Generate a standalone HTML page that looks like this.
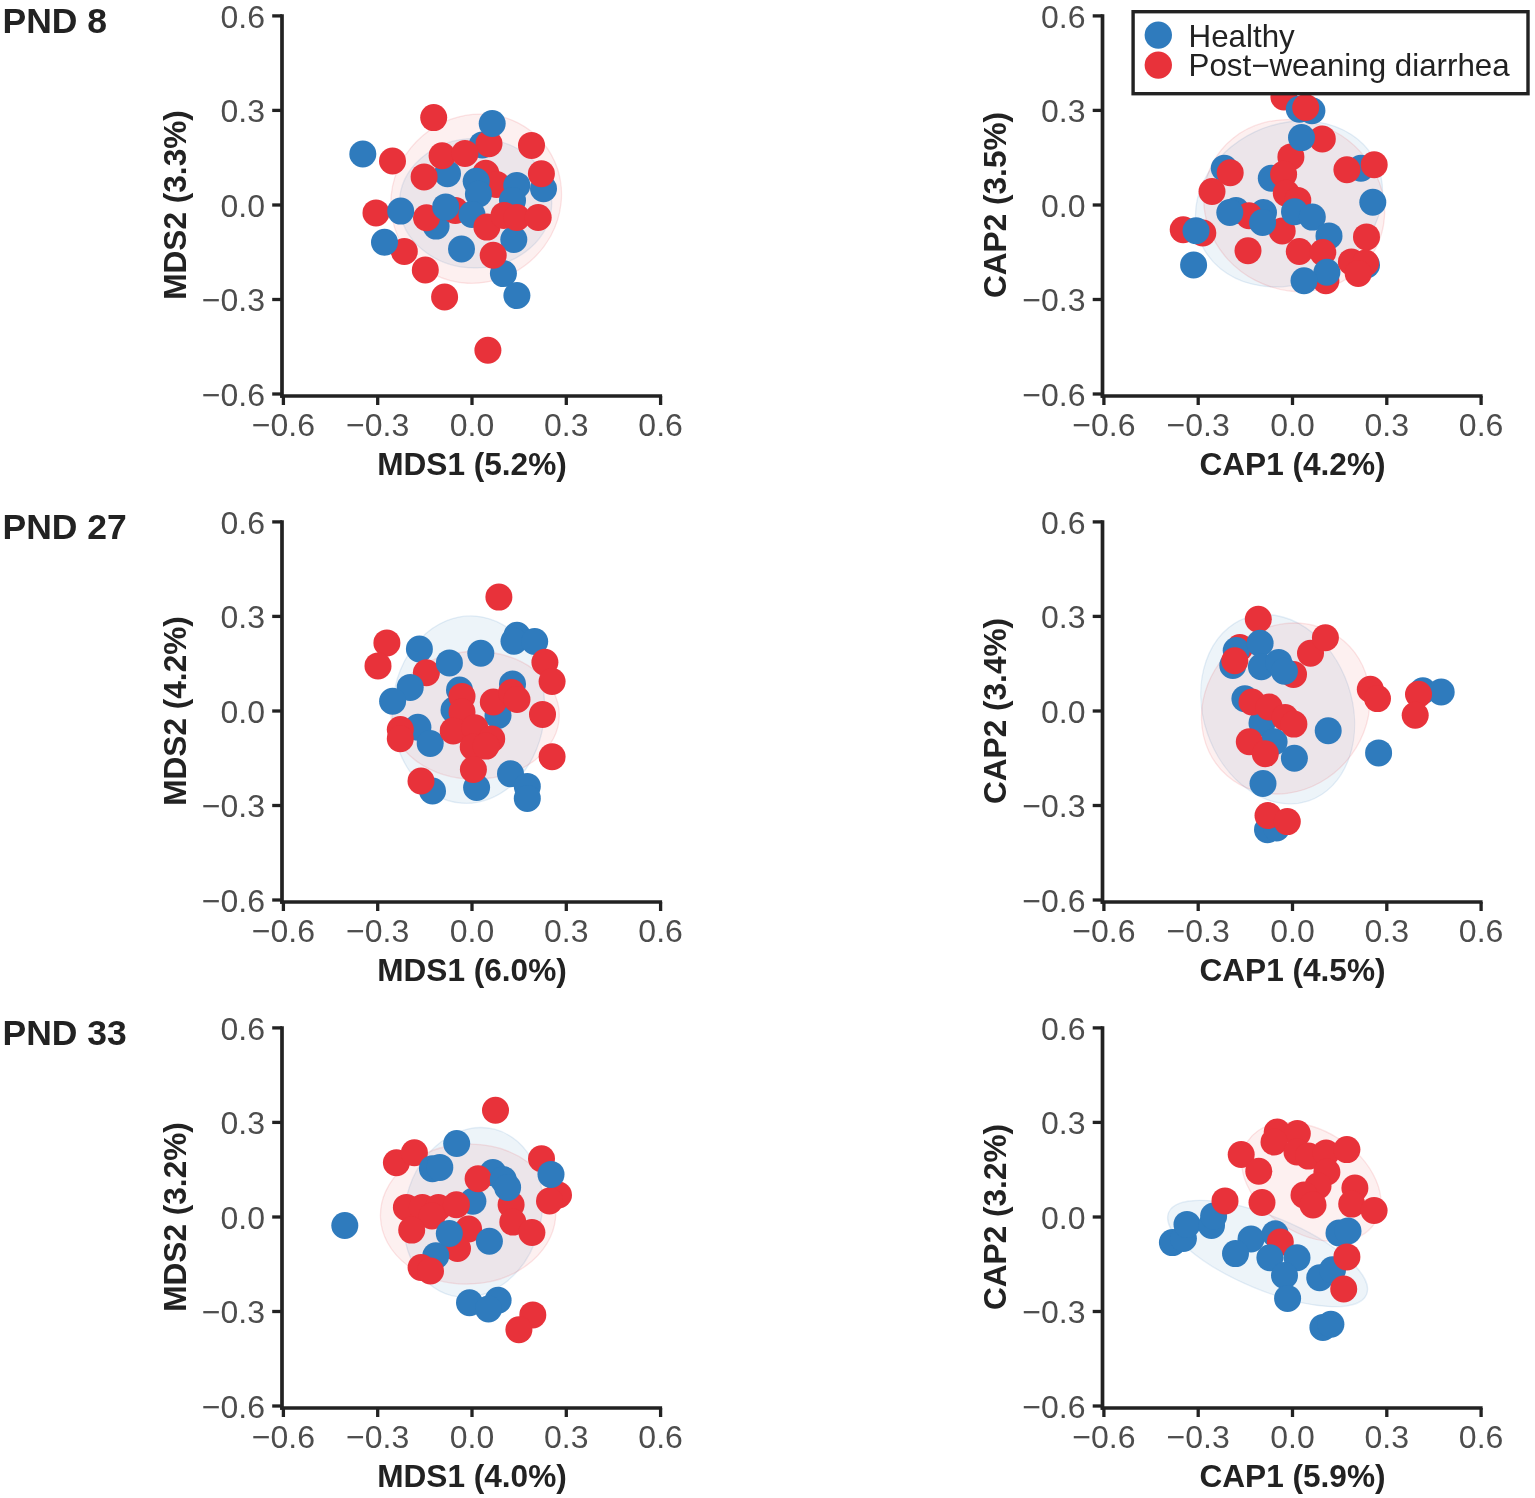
<!DOCTYPE html>
<html><head><meta charset="utf-8"><title>Ordination plots</title><style>html,body{margin:0;padding:0;background:#fff;}
svg{display:block;}
text{font-family:"Liberation Sans",Arial,sans-serif;}
.tk{font-size:32px;fill:#4d4d4d;}
.ttl{font-size:31.6px;font-weight:bold;fill:#222222;}
.pnd{font-size:35.5px;font-weight:bold;fill:#222222;}
.lg{font-size:31.3px;fill:#222222;}</style></head>
<body>
<svg width="1535" height="1498" viewBox="0 0 1535 1498">
<rect width="1535" height="1498" fill="#fff"/>
<text x="2.5" y="33.1" class="pnd">PND 8</text>
<ellipse cx="475.6" cy="203.1" rx="76.1" ry="64.8" transform="rotate(-1.0 475.6 203.1)" fill="#2f7bbd" fill-opacity="0.085" stroke="#2f7bbd" stroke-opacity="0.12" stroke-width="1.3"/>
<ellipse cx="476.2" cy="198.7" rx="87.2" ry="82.7" transform="rotate(-40.6 476.2 198.7)" fill="#e8323a" fill-opacity="0.075" stroke="#e8323a" stroke-opacity="0.12" stroke-width="1.3"/>
<circle cx="482.3" cy="144.9" r="13.5" fill="#2f7bbd"/>
<circle cx="489.0" cy="143.8" r="13.5" fill="#e8323a"/>
<circle cx="492.2" cy="123.5" r="13.5" fill="#2f7bbd"/>
<circle cx="447.5" cy="173.8" r="13.5" fill="#2f7bbd"/>
<circle cx="442.1" cy="155.8" r="13.5" fill="#e8323a"/>
<circle cx="465.0" cy="153.4" r="13.5" fill="#e8323a"/>
<circle cx="424.1" cy="176.9" r="13.5" fill="#e8323a"/>
<circle cx="543.5" cy="188.7" r="13.5" fill="#2f7bbd"/>
<circle cx="541.4" cy="173.7" r="13.5" fill="#e8323a"/>
<circle cx="531.5" cy="145.4" r="13.5" fill="#e8323a"/>
<circle cx="485.8" cy="173.2" r="13.5" fill="#e8323a"/>
<circle cx="496.5" cy="184.4" r="13.5" fill="#e8323a"/>
<circle cx="476.2" cy="181.2" r="13.5" fill="#2f7bbd"/>
<circle cx="478.4" cy="194.0" r="13.5" fill="#2f7bbd"/>
<circle cx="516.8" cy="185.4" r="13.5" fill="#2f7bbd"/>
<circle cx="512.5" cy="200.4" r="13.5" fill="#2f7bbd"/>
<circle cx="436.1" cy="226.1" r="13.5" fill="#2f7bbd"/>
<circle cx="426.5" cy="217.7" r="13.5" fill="#e8323a"/>
<circle cx="455.3" cy="210.5" r="13.5" fill="#e8323a"/>
<circle cx="445.7" cy="206.9" r="13.5" fill="#2f7bbd"/>
<circle cx="472.0" cy="214.5" r="13.5" fill="#2f7bbd"/>
<circle cx="513.8" cy="239.5" r="13.5" fill="#2f7bbd"/>
<circle cx="486.9" cy="227.1" r="13.5" fill="#e8323a"/>
<circle cx="504.0" cy="215.4" r="13.5" fill="#e8323a"/>
<circle cx="516.8" cy="217.5" r="13.5" fill="#e8323a"/>
<circle cx="538.2" cy="217.5" r="13.5" fill="#e8323a"/>
<circle cx="376.0" cy="212.9" r="13.5" fill="#e8323a"/>
<circle cx="400.7" cy="211.1" r="13.5" fill="#2f7bbd"/>
<circle cx="404.3" cy="251.4" r="13.5" fill="#e8323a"/>
<circle cx="384.5" cy="242.3" r="13.5" fill="#2f7bbd"/>
<circle cx="392.5" cy="161.0" r="13.5" fill="#e8323a"/>
<circle cx="362.8" cy="154.0" r="13.5" fill="#2f7bbd"/>
<circle cx="433.7" cy="117.6" r="13.5" fill="#e8323a"/>
<circle cx="425.3" cy="270.0" r="13.5" fill="#e8323a"/>
<circle cx="444.6" cy="297.0" r="13.5" fill="#e8323a"/>
<circle cx="487.9" cy="350.2" r="13.5" fill="#e8323a"/>
<circle cx="461.5" cy="249.0" r="13.5" fill="#2f7bbd"/>
<circle cx="503.4" cy="273.6" r="13.5" fill="#2f7bbd"/>
<circle cx="493.2" cy="255.3" r="13.5" fill="#e8323a"/>
<circle cx="516.9" cy="295.5" r="13.5" fill="#2f7bbd"/>
<line x1="282.0" y1="14.2" x2="282.0" y2="397.8" stroke="#222222" stroke-width="3.7"/>
<line x1="280.2" y1="396.0" x2="662.1" y2="396.0" stroke="#222222" stroke-width="3.5"/>
<line x1="272.2" y1="15.9" x2="282.0" y2="15.9" stroke="#222222" stroke-width="3.3"/>
<text x="265.0" y="27.8" class="tk" text-anchor="end">0.6</text>
<line x1="283.4" y1="396.0" x2="283.4" y2="405.0" stroke="#222222" stroke-width="3.3"/>
<text x="283.4" y="435.9" class="tk" text-anchor="middle">−0.6</text>
<line x1="272.2" y1="110.4" x2="282.0" y2="110.4" stroke="#222222" stroke-width="3.3"/>
<text x="265.0" y="122.3" class="tk" text-anchor="end">0.3</text>
<line x1="377.7" y1="396.0" x2="377.7" y2="405.0" stroke="#222222" stroke-width="3.3"/>
<text x="377.7" y="435.9" class="tk" text-anchor="middle">−0.3</text>
<line x1="272.2" y1="205.0" x2="282.0" y2="205.0" stroke="#222222" stroke-width="3.3"/>
<text x="265.0" y="216.8" class="tk" text-anchor="end">0.0</text>
<line x1="472.0" y1="396.0" x2="472.0" y2="405.0" stroke="#222222" stroke-width="3.3"/>
<text x="472.0" y="435.9" class="tk" text-anchor="middle">0.0</text>
<line x1="272.2" y1="299.5" x2="282.0" y2="299.5" stroke="#222222" stroke-width="3.3"/>
<text x="265.0" y="311.3" class="tk" text-anchor="end">−0.3</text>
<line x1="566.3" y1="396.0" x2="566.3" y2="405.0" stroke="#222222" stroke-width="3.3"/>
<text x="566.3" y="435.9" class="tk" text-anchor="middle">0.3</text>
<line x1="272.2" y1="394.0" x2="282.0" y2="394.0" stroke="#222222" stroke-width="3.3"/>
<text x="265.0" y="405.9" class="tk" text-anchor="end">−0.6</text>
<line x1="660.6" y1="396.0" x2="660.6" y2="405.0" stroke="#222222" stroke-width="3.3"/>
<text x="660.6" y="435.9" class="tk" text-anchor="middle">0.6</text>
<text x="472.0" y="474.5" class="ttl" text-anchor="middle">MDS1 (5.2%)</text>
<text transform="translate(185.8 205.0) rotate(-90)" class="ttl" text-anchor="middle">MDS2 (3.3%)</text>
<ellipse cx="1289.0" cy="203.9" rx="96.4" ry="79.7" transform="rotate(-25.3 1289.0 203.9)" fill="#2f7bbd" fill-opacity="0.085" stroke="#2f7bbd" stroke-opacity="0.12" stroke-width="1.3"/>
<ellipse cx="1294.2" cy="205.6" rx="92.0" ry="84.3" transform="rotate(27.4 1294.2 205.6)" fill="#e8323a" fill-opacity="0.075" stroke="#e8323a" stroke-opacity="0.12" stroke-width="1.3"/>
<circle cx="1283.9" cy="97.0" r="13.5" fill="#e8323a"/>
<circle cx="1299.3" cy="109.3" r="13.5" fill="#2f7bbd"/>
<circle cx="1311.9" cy="110.8" r="13.5" fill="#2f7bbd"/>
<circle cx="1305.7" cy="107.5" r="13.5" fill="#e8323a"/>
<circle cx="1322.3" cy="138.9" r="13.5" fill="#e8323a"/>
<circle cx="1290.9" cy="156.9" r="13.5" fill="#e8323a"/>
<circle cx="1301.5" cy="137.6" r="13.5" fill="#2f7bbd"/>
<circle cx="1224.3" cy="168.3" r="13.5" fill="#2f7bbd"/>
<circle cx="1230.2" cy="172.8" r="13.5" fill="#e8323a"/>
<circle cx="1212.0" cy="191.5" r="13.5" fill="#e8323a"/>
<circle cx="1271.3" cy="178.3" r="13.5" fill="#2f7bbd"/>
<circle cx="1283.6" cy="174.2" r="13.5" fill="#e8323a"/>
<circle cx="1286.3" cy="193.3" r="13.5" fill="#e8323a"/>
<circle cx="1297.8" cy="200.4" r="13.5" fill="#e8323a"/>
<circle cx="1236.0" cy="210.5" r="13.5" fill="#2f7bbd"/>
<circle cx="1263.5" cy="212.5" r="13.5" fill="#2f7bbd"/>
<circle cx="1249.0" cy="215.8" r="13.5" fill="#e8323a"/>
<circle cx="1282.2" cy="231.0" r="13.5" fill="#e8323a"/>
<circle cx="1229.8" cy="212.5" r="13.5" fill="#2f7bbd"/>
<circle cx="1262.6" cy="222.5" r="13.5" fill="#2f7bbd"/>
<circle cx="1294.5" cy="211.8" r="13.5" fill="#2f7bbd"/>
<circle cx="1312.3" cy="217.1" r="13.5" fill="#2f7bbd"/>
<circle cx="1329.0" cy="235.9" r="13.5" fill="#2f7bbd"/>
<circle cx="1299.3" cy="251.5" r="13.5" fill="#e8323a"/>
<circle cx="1322.8" cy="252.5" r="13.5" fill="#e8323a"/>
<circle cx="1325.9" cy="280.7" r="13.5" fill="#e8323a"/>
<circle cx="1326.9" cy="272.3" r="13.5" fill="#2f7bbd"/>
<circle cx="1304.0" cy="280.7" r="13.5" fill="#2f7bbd"/>
<circle cx="1360.9" cy="168.3" r="13.5" fill="#2f7bbd"/>
<circle cx="1346.9" cy="169.7" r="13.5" fill="#e8323a"/>
<circle cx="1374.2" cy="164.8" r="13.5" fill="#e8323a"/>
<circle cx="1372.8" cy="202.2" r="13.5" fill="#2f7bbd"/>
<circle cx="1366.5" cy="236.9" r="13.5" fill="#e8323a"/>
<circle cx="1366.5" cy="265.0" r="13.5" fill="#2f7bbd"/>
<circle cx="1351.4" cy="261.9" r="13.5" fill="#e8323a"/>
<circle cx="1365.5" cy="263.0" r="13.5" fill="#e8323a"/>
<circle cx="1358.2" cy="273.4" r="13.5" fill="#e8323a"/>
<circle cx="1183.2" cy="229.8" r="13.5" fill="#e8323a"/>
<circle cx="1202.8" cy="233.0" r="13.5" fill="#e8323a"/>
<circle cx="1196.0" cy="230.7" r="13.5" fill="#2f7bbd"/>
<circle cx="1193.6" cy="265.0" r="13.5" fill="#2f7bbd"/>
<circle cx="1248.0" cy="250.8" r="13.5" fill="#e8323a"/>
<line x1="1102.5" y1="14.2" x2="1102.5" y2="397.8" stroke="#222222" stroke-width="3.7"/>
<line x1="1100.7" y1="396.0" x2="1482.6" y2="396.0" stroke="#222222" stroke-width="3.5"/>
<line x1="1092.7" y1="15.9" x2="1102.5" y2="15.9" stroke="#222222" stroke-width="3.3"/>
<text x="1085.5" y="27.8" class="tk" text-anchor="end">0.6</text>
<line x1="1103.9" y1="396.0" x2="1103.9" y2="405.0" stroke="#222222" stroke-width="3.3"/>
<text x="1103.9" y="435.9" class="tk" text-anchor="middle">−0.6</text>
<line x1="1092.7" y1="110.4" x2="1102.5" y2="110.4" stroke="#222222" stroke-width="3.3"/>
<text x="1085.5" y="122.3" class="tk" text-anchor="end">0.3</text>
<line x1="1198.2" y1="396.0" x2="1198.2" y2="405.0" stroke="#222222" stroke-width="3.3"/>
<text x="1198.2" y="435.9" class="tk" text-anchor="middle">−0.3</text>
<line x1="1092.7" y1="205.0" x2="1102.5" y2="205.0" stroke="#222222" stroke-width="3.3"/>
<text x="1085.5" y="216.8" class="tk" text-anchor="end">0.0</text>
<line x1="1292.5" y1="396.0" x2="1292.5" y2="405.0" stroke="#222222" stroke-width="3.3"/>
<text x="1292.5" y="435.9" class="tk" text-anchor="middle">0.0</text>
<line x1="1092.7" y1="299.5" x2="1102.5" y2="299.5" stroke="#222222" stroke-width="3.3"/>
<text x="1085.5" y="311.3" class="tk" text-anchor="end">−0.3</text>
<line x1="1386.8" y1="396.0" x2="1386.8" y2="405.0" stroke="#222222" stroke-width="3.3"/>
<text x="1386.8" y="435.9" class="tk" text-anchor="middle">0.3</text>
<line x1="1092.7" y1="394.0" x2="1102.5" y2="394.0" stroke="#222222" stroke-width="3.3"/>
<text x="1085.5" y="405.9" class="tk" text-anchor="end">−0.6</text>
<line x1="1481.1" y1="396.0" x2="1481.1" y2="405.0" stroke="#222222" stroke-width="3.3"/>
<text x="1481.1" y="435.9" class="tk" text-anchor="middle">0.6</text>
<text x="1292.5" y="474.5" class="ttl" text-anchor="middle">CAP1 (4.2%)</text>
<text transform="translate(1006.3 205.0) rotate(-90)" class="ttl" text-anchor="middle">CAP2 (3.5%)</text>
<text x="2.5" y="539.1" class="pnd">PND 27</text>
<ellipse cx="468.5" cy="709.6" rx="93.8" ry="76.1" transform="rotate(-85.9 468.5 709.6)" fill="#2f7bbd" fill-opacity="0.085" stroke="#2f7bbd" stroke-opacity="0.12" stroke-width="1.3"/>
<ellipse cx="475.1" cy="715.3" rx="84.2" ry="63.8" transform="rotate(-0.2 475.1 715.3)" fill="#e8323a" fill-opacity="0.075" stroke="#e8323a" stroke-opacity="0.12" stroke-width="1.3"/>
<circle cx="386.9" cy="642.9" r="13.5" fill="#e8323a"/>
<circle cx="378.0" cy="665.9" r="13.5" fill="#e8323a"/>
<circle cx="419.4" cy="649.0" r="13.5" fill="#2f7bbd"/>
<circle cx="426.4" cy="672.8" r="13.5" fill="#e8323a"/>
<circle cx="449.4" cy="662.9" r="13.5" fill="#2f7bbd"/>
<circle cx="410.2" cy="687.4" r="13.5" fill="#2f7bbd"/>
<circle cx="392.6" cy="701.2" r="13.5" fill="#2f7bbd"/>
<circle cx="459.5" cy="690.0" r="13.5" fill="#2f7bbd"/>
<circle cx="454.0" cy="710.0" r="13.5" fill="#2f7bbd"/>
<circle cx="417.9" cy="727.3" r="13.5" fill="#2f7bbd"/>
<circle cx="430.2" cy="743.4" r="13.5" fill="#2f7bbd"/>
<circle cx="400.3" cy="729.6" r="13.5" fill="#e8323a"/>
<circle cx="400.3" cy="738.8" r="13.5" fill="#e8323a"/>
<circle cx="498.0" cy="715.5" r="13.5" fill="#2f7bbd"/>
<circle cx="512.5" cy="684.0" r="13.5" fill="#2f7bbd"/>
<circle cx="462.0" cy="696.4" r="13.5" fill="#e8323a"/>
<circle cx="462.0" cy="712.0" r="13.5" fill="#e8323a"/>
<circle cx="453.2" cy="730.9" r="13.5" fill="#e8323a"/>
<circle cx="474.8" cy="727.7" r="13.5" fill="#e8323a"/>
<circle cx="491.7" cy="738.9" r="13.5" fill="#e8323a"/>
<circle cx="473.2" cy="746.9" r="13.5" fill="#e8323a"/>
<circle cx="486.0" cy="746.1" r="13.5" fill="#e8323a"/>
<circle cx="493.3" cy="702.0" r="13.5" fill="#e8323a"/>
<circle cx="511.5" cy="692.5" r="13.5" fill="#e8323a"/>
<circle cx="517.0" cy="699.5" r="13.5" fill="#e8323a"/>
<circle cx="517.0" cy="635.3" r="13.5" fill="#2f7bbd"/>
<circle cx="514.0" cy="641.3" r="13.5" fill="#2f7bbd"/>
<circle cx="534.7" cy="641.5" r="13.5" fill="#2f7bbd"/>
<circle cx="544.9" cy="662.3" r="13.5" fill="#e8323a"/>
<circle cx="552.1" cy="681.5" r="13.5" fill="#e8323a"/>
<circle cx="480.8" cy="653.2" r="13.5" fill="#2f7bbd"/>
<circle cx="498.9" cy="597.1" r="13.5" fill="#e8323a"/>
<circle cx="542.5" cy="714.4" r="13.5" fill="#e8323a"/>
<circle cx="552.1" cy="756.8" r="13.5" fill="#e8323a"/>
<circle cx="510.5" cy="773.8" r="13.5" fill="#2f7bbd"/>
<circle cx="527.3" cy="786.4" r="13.5" fill="#2f7bbd"/>
<circle cx="527.3" cy="798.4" r="13.5" fill="#2f7bbd"/>
<circle cx="476.6" cy="787.5" r="13.5" fill="#2f7bbd"/>
<circle cx="473.4" cy="769.5" r="13.5" fill="#e8323a"/>
<circle cx="432.5" cy="791.0" r="13.5" fill="#2f7bbd"/>
<circle cx="421.0" cy="781.0" r="13.5" fill="#e8323a"/>
<line x1="282.0" y1="520.2" x2="282.0" y2="903.8" stroke="#222222" stroke-width="3.7"/>
<line x1="280.2" y1="902.0" x2="662.1" y2="902.0" stroke="#222222" stroke-width="3.5"/>
<line x1="272.2" y1="521.9" x2="282.0" y2="521.9" stroke="#222222" stroke-width="3.3"/>
<text x="265.0" y="533.8" class="tk" text-anchor="end">0.6</text>
<line x1="283.4" y1="902.0" x2="283.4" y2="911.0" stroke="#222222" stroke-width="3.3"/>
<text x="283.4" y="941.9" class="tk" text-anchor="middle">−0.6</text>
<line x1="272.2" y1="616.4" x2="282.0" y2="616.4" stroke="#222222" stroke-width="3.3"/>
<text x="265.0" y="628.3" class="tk" text-anchor="end">0.3</text>
<line x1="377.7" y1="902.0" x2="377.7" y2="911.0" stroke="#222222" stroke-width="3.3"/>
<text x="377.7" y="941.9" class="tk" text-anchor="middle">−0.3</text>
<line x1="272.2" y1="711.0" x2="282.0" y2="711.0" stroke="#222222" stroke-width="3.3"/>
<text x="265.0" y="722.8" class="tk" text-anchor="end">0.0</text>
<line x1="472.0" y1="902.0" x2="472.0" y2="911.0" stroke="#222222" stroke-width="3.3"/>
<text x="472.0" y="941.9" class="tk" text-anchor="middle">0.0</text>
<line x1="272.2" y1="805.5" x2="282.0" y2="805.5" stroke="#222222" stroke-width="3.3"/>
<text x="265.0" y="817.3" class="tk" text-anchor="end">−0.3</text>
<line x1="566.3" y1="902.0" x2="566.3" y2="911.0" stroke="#222222" stroke-width="3.3"/>
<text x="566.3" y="941.9" class="tk" text-anchor="middle">0.3</text>
<line x1="272.2" y1="900.0" x2="282.0" y2="900.0" stroke="#222222" stroke-width="3.3"/>
<text x="265.0" y="911.9" class="tk" text-anchor="end">−0.6</text>
<line x1="660.6" y1="902.0" x2="660.6" y2="911.0" stroke="#222222" stroke-width="3.3"/>
<text x="660.6" y="941.9" class="tk" text-anchor="middle">0.6</text>
<text x="472.0" y="980.5" class="ttl" text-anchor="middle">MDS1 (6.0%)</text>
<text transform="translate(185.8 711.0) rotate(-90)" class="ttl" text-anchor="middle">MDS2 (4.2%)</text>
<ellipse cx="1277.7" cy="709.2" rx="96.7" ry="74.3" transform="rotate(71.3 1277.7 709.2)" fill="#2f7bbd" fill-opacity="0.085" stroke="#2f7bbd" stroke-opacity="0.12" stroke-width="1.3"/>
<ellipse cx="1285.7" cy="708.5" rx="89.2" ry="80.3" transform="rotate(-49.0 1285.7 708.5)" fill="#e8323a" fill-opacity="0.075" stroke="#e8323a" stroke-opacity="0.12" stroke-width="1.3"/>
<circle cx="1239.8" cy="647.6" r="13.5" fill="#e8323a"/>
<circle cx="1236.2" cy="650.6" r="13.5" fill="#2f7bbd"/>
<circle cx="1232.8" cy="665.4" r="13.5" fill="#2f7bbd"/>
<circle cx="1234.8" cy="660.7" r="13.5" fill="#e8323a"/>
<circle cx="1258.3" cy="619.2" r="13.5" fill="#e8323a"/>
<circle cx="1293.5" cy="674.4" r="13.5" fill="#e8323a"/>
<circle cx="1260.1" cy="643.2" r="13.5" fill="#2f7bbd"/>
<circle cx="1261.4" cy="666.8" r="13.5" fill="#2f7bbd"/>
<circle cx="1278.7" cy="662.4" r="13.5" fill="#2f7bbd"/>
<circle cx="1284.4" cy="671.3" r="13.5" fill="#2f7bbd"/>
<circle cx="1310.5" cy="653.2" r="13.5" fill="#e8323a"/>
<circle cx="1325.4" cy="637.7" r="13.5" fill="#e8323a"/>
<circle cx="1244.9" cy="698.7" r="13.5" fill="#2f7bbd"/>
<circle cx="1262.0" cy="723.0" r="13.5" fill="#2f7bbd"/>
<circle cx="1274.1" cy="741.7" r="13.5" fill="#2f7bbd"/>
<circle cx="1252.0" cy="702.0" r="13.5" fill="#e8323a"/>
<circle cx="1269.1" cy="707.0" r="13.5" fill="#e8323a"/>
<circle cx="1285.1" cy="717.5" r="13.5" fill="#e8323a"/>
<circle cx="1293.9" cy="724.1" r="13.5" fill="#e8323a"/>
<circle cx="1249.3" cy="741.7" r="13.5" fill="#e8323a"/>
<circle cx="1265.3" cy="753.8" r="13.5" fill="#e8323a"/>
<circle cx="1294.4" cy="758.2" r="13.5" fill="#2f7bbd"/>
<circle cx="1263.0" cy="783.5" r="13.5" fill="#2f7bbd"/>
<circle cx="1328.2" cy="730.7" r="13.5" fill="#2f7bbd"/>
<circle cx="1378.6" cy="752.9" r="13.5" fill="#2f7bbd"/>
<circle cx="1267.5" cy="829.8" r="13.5" fill="#2f7bbd"/>
<circle cx="1276.5" cy="828.0" r="13.5" fill="#2f7bbd"/>
<circle cx="1268.0" cy="815.5" r="13.5" fill="#e8323a"/>
<circle cx="1287.3" cy="821.6" r="13.5" fill="#e8323a"/>
<circle cx="1370.3" cy="689.2" r="13.5" fill="#e8323a"/>
<circle cx="1377.5" cy="698.6" r="13.5" fill="#e8323a"/>
<circle cx="1422.9" cy="690.8" r="13.5" fill="#2f7bbd"/>
<circle cx="1441.2" cy="692.0" r="13.5" fill="#2f7bbd"/>
<circle cx="1418.5" cy="694.2" r="13.5" fill="#e8323a"/>
<circle cx="1415.2" cy="715.2" r="13.5" fill="#e8323a"/>
<line x1="1102.5" y1="520.2" x2="1102.5" y2="903.8" stroke="#222222" stroke-width="3.7"/>
<line x1="1100.7" y1="902.0" x2="1482.6" y2="902.0" stroke="#222222" stroke-width="3.5"/>
<line x1="1092.7" y1="521.9" x2="1102.5" y2="521.9" stroke="#222222" stroke-width="3.3"/>
<text x="1085.5" y="533.8" class="tk" text-anchor="end">0.6</text>
<line x1="1103.9" y1="902.0" x2="1103.9" y2="911.0" stroke="#222222" stroke-width="3.3"/>
<text x="1103.9" y="941.9" class="tk" text-anchor="middle">−0.6</text>
<line x1="1092.7" y1="616.4" x2="1102.5" y2="616.4" stroke="#222222" stroke-width="3.3"/>
<text x="1085.5" y="628.3" class="tk" text-anchor="end">0.3</text>
<line x1="1198.2" y1="902.0" x2="1198.2" y2="911.0" stroke="#222222" stroke-width="3.3"/>
<text x="1198.2" y="941.9" class="tk" text-anchor="middle">−0.3</text>
<line x1="1092.7" y1="711.0" x2="1102.5" y2="711.0" stroke="#222222" stroke-width="3.3"/>
<text x="1085.5" y="722.8" class="tk" text-anchor="end">0.0</text>
<line x1="1292.5" y1="902.0" x2="1292.5" y2="911.0" stroke="#222222" stroke-width="3.3"/>
<text x="1292.5" y="941.9" class="tk" text-anchor="middle">0.0</text>
<line x1="1092.7" y1="805.5" x2="1102.5" y2="805.5" stroke="#222222" stroke-width="3.3"/>
<text x="1085.5" y="817.3" class="tk" text-anchor="end">−0.3</text>
<line x1="1386.8" y1="902.0" x2="1386.8" y2="911.0" stroke="#222222" stroke-width="3.3"/>
<text x="1386.8" y="941.9" class="tk" text-anchor="middle">0.3</text>
<line x1="1092.7" y1="900.0" x2="1102.5" y2="900.0" stroke="#222222" stroke-width="3.3"/>
<text x="1085.5" y="911.9" class="tk" text-anchor="end">−0.6</text>
<line x1="1481.1" y1="902.0" x2="1481.1" y2="911.0" stroke="#222222" stroke-width="3.3"/>
<text x="1481.1" y="941.9" class="tk" text-anchor="middle">0.6</text>
<text x="1292.5" y="980.5" class="ttl" text-anchor="middle">CAP1 (4.5%)</text>
<text transform="translate(1006.3 711.0) rotate(-90)" class="ttl" text-anchor="middle">CAP2 (3.4%)</text>
<text x="2.5" y="1045.1" class="pnd">PND 33</text>
<ellipse cx="473.0" cy="1212.4" rx="85.9" ry="68.2" transform="rotate(-75.5 473.0 1212.4)" fill="#2f7bbd" fill-opacity="0.085" stroke="#2f7bbd" stroke-opacity="0.12" stroke-width="1.3"/>
<ellipse cx="468.1" cy="1214.1" rx="87.7" ry="69.9" transform="rotate(-2.1 468.1 1214.1)" fill="#e8323a" fill-opacity="0.075" stroke="#e8323a" stroke-opacity="0.12" stroke-width="1.3"/>
<circle cx="396.4" cy="1162.7" r="13.5" fill="#e8323a"/>
<circle cx="414.4" cy="1152.7" r="13.5" fill="#e8323a"/>
<circle cx="432.4" cy="1168.7" r="13.5" fill="#2f7bbd"/>
<circle cx="439.8" cy="1167.4" r="13.5" fill="#2f7bbd"/>
<circle cx="456.7" cy="1143.5" r="13.5" fill="#2f7bbd"/>
<circle cx="472.9" cy="1201.3" r="13.5" fill="#2f7bbd"/>
<circle cx="406.4" cy="1207.4" r="13.5" fill="#e8323a"/>
<circle cx="422.4" cy="1207.4" r="13.5" fill="#e8323a"/>
<circle cx="438.4" cy="1207.4" r="13.5" fill="#e8323a"/>
<circle cx="456.4" cy="1204.7" r="13.5" fill="#e8323a"/>
<circle cx="432.0" cy="1216.0" r="13.5" fill="#e8323a"/>
<circle cx="411.7" cy="1230.1" r="13.5" fill="#e8323a"/>
<circle cx="468.6" cy="1229.0" r="13.5" fill="#e8323a"/>
<circle cx="457.5" cy="1248.5" r="13.5" fill="#e8323a"/>
<circle cx="435.8" cy="1255.8" r="13.5" fill="#2f7bbd"/>
<circle cx="421.1" cy="1267.5" r="13.5" fill="#e8323a"/>
<circle cx="430.5" cy="1271.0" r="13.5" fill="#e8323a"/>
<circle cx="449.3" cy="1233.5" r="13.5" fill="#2f7bbd"/>
<circle cx="489.4" cy="1241.2" r="13.5" fill="#2f7bbd"/>
<circle cx="492.9" cy="1172.6" r="13.5" fill="#2f7bbd"/>
<circle cx="478.1" cy="1178.7" r="13.5" fill="#e8323a"/>
<circle cx="511.1" cy="1204.7" r="13.5" fill="#e8323a"/>
<circle cx="512.8" cy="1222.1" r="13.5" fill="#e8323a"/>
<circle cx="531.9" cy="1232.5" r="13.5" fill="#e8323a"/>
<circle cx="503.3" cy="1179.6" r="13.5" fill="#2f7bbd"/>
<circle cx="507.6" cy="1187.4" r="13.5" fill="#2f7bbd"/>
<circle cx="541.5" cy="1158.8" r="13.5" fill="#e8323a"/>
<circle cx="558.5" cy="1195.0" r="13.5" fill="#e8323a"/>
<circle cx="549.5" cy="1201.0" r="13.5" fill="#e8323a"/>
<circle cx="551.0" cy="1174.4" r="13.5" fill="#2f7bbd"/>
<circle cx="495.5" cy="1110.2" r="13.5" fill="#e8323a"/>
<circle cx="344.8" cy="1225.5" r="13.5" fill="#2f7bbd"/>
<circle cx="469.5" cy="1302.8" r="13.5" fill="#2f7bbd"/>
<circle cx="498.1" cy="1300.2" r="13.5" fill="#2f7bbd"/>
<circle cx="488.5" cy="1308.9" r="13.5" fill="#2f7bbd"/>
<circle cx="532.8" cy="1314.9" r="13.5" fill="#e8323a"/>
<circle cx="518.9" cy="1329.7" r="13.5" fill="#e8323a"/>
<line x1="282.0" y1="1026.2" x2="282.0" y2="1409.8" stroke="#222222" stroke-width="3.7"/>
<line x1="280.2" y1="1408.0" x2="662.1" y2="1408.0" stroke="#222222" stroke-width="3.5"/>
<line x1="272.2" y1="1027.9" x2="282.0" y2="1027.9" stroke="#222222" stroke-width="3.3"/>
<text x="265.0" y="1039.8" class="tk" text-anchor="end">0.6</text>
<line x1="283.4" y1="1408.0" x2="283.4" y2="1417.0" stroke="#222222" stroke-width="3.3"/>
<text x="283.4" y="1447.9" class="tk" text-anchor="middle">−0.6</text>
<line x1="272.2" y1="1122.4" x2="282.0" y2="1122.4" stroke="#222222" stroke-width="3.3"/>
<text x="265.0" y="1134.3" class="tk" text-anchor="end">0.3</text>
<line x1="377.7" y1="1408.0" x2="377.7" y2="1417.0" stroke="#222222" stroke-width="3.3"/>
<text x="377.7" y="1447.9" class="tk" text-anchor="middle">−0.3</text>
<line x1="272.2" y1="1217.0" x2="282.0" y2="1217.0" stroke="#222222" stroke-width="3.3"/>
<text x="265.0" y="1228.8" class="tk" text-anchor="end">0.0</text>
<line x1="472.0" y1="1408.0" x2="472.0" y2="1417.0" stroke="#222222" stroke-width="3.3"/>
<text x="472.0" y="1447.9" class="tk" text-anchor="middle">0.0</text>
<line x1="272.2" y1="1311.5" x2="282.0" y2="1311.5" stroke="#222222" stroke-width="3.3"/>
<text x="265.0" y="1323.3" class="tk" text-anchor="end">−0.3</text>
<line x1="566.3" y1="1408.0" x2="566.3" y2="1417.0" stroke="#222222" stroke-width="3.3"/>
<text x="566.3" y="1447.9" class="tk" text-anchor="middle">0.3</text>
<line x1="272.2" y1="1406.0" x2="282.0" y2="1406.0" stroke="#222222" stroke-width="3.3"/>
<text x="265.0" y="1417.9" class="tk" text-anchor="end">−0.6</text>
<line x1="660.6" y1="1408.0" x2="660.6" y2="1417.0" stroke="#222222" stroke-width="3.3"/>
<text x="660.6" y="1447.9" class="tk" text-anchor="middle">0.6</text>
<text x="472.0" y="1486.5" class="ttl" text-anchor="middle">MDS1 (4.0%)</text>
<text transform="translate(185.8 1217.0) rotate(-90)" class="ttl" text-anchor="middle">MDS2 (3.2%)</text>
<ellipse cx="1267.6" cy="1253.5" rx="107.1" ry="36.6" transform="rotate(22.5 1267.6 1253.5)" fill="#2f7bbd" fill-opacity="0.085" stroke="#2f7bbd" stroke-opacity="0.12" stroke-width="1.3"/>
<ellipse cx="1311.3" cy="1182.1" rx="75.6" ry="51.4" transform="rotate(32.4 1311.3 1182.1)" fill="#e8323a" fill-opacity="0.075" stroke="#e8323a" stroke-opacity="0.12" stroke-width="1.3"/>
<circle cx="1277.2" cy="1132.0" r="13.5" fill="#e8323a"/>
<circle cx="1297.3" cy="1133.6" r="13.5" fill="#e8323a"/>
<circle cx="1274.0" cy="1142.0" r="13.5" fill="#e8323a"/>
<circle cx="1241.2" cy="1154.5" r="13.5" fill="#e8323a"/>
<circle cx="1258.8" cy="1171.3" r="13.5" fill="#e8323a"/>
<circle cx="1297.0" cy="1152.0" r="13.5" fill="#e8323a"/>
<circle cx="1308.5" cy="1156.1" r="13.5" fill="#e8323a"/>
<circle cx="1326.1" cy="1152.9" r="13.5" fill="#e8323a"/>
<circle cx="1346.9" cy="1149.6" r="13.5" fill="#e8323a"/>
<circle cx="1326.9" cy="1172.0" r="13.5" fill="#e8323a"/>
<circle cx="1318.0" cy="1186.0" r="13.5" fill="#e8323a"/>
<circle cx="1304.0" cy="1195.0" r="13.5" fill="#e8323a"/>
<circle cx="1313.0" cy="1205.0" r="13.5" fill="#e8323a"/>
<circle cx="1354.9" cy="1188.1" r="13.5" fill="#e8323a"/>
<circle cx="1351.7" cy="1204.1" r="13.5" fill="#e8323a"/>
<circle cx="1374.1" cy="1210.5" r="13.5" fill="#e8323a"/>
<circle cx="1262.0" cy="1202.5" r="13.5" fill="#e8323a"/>
<circle cx="1172.4" cy="1242.6" r="13.5" fill="#2f7bbd"/>
<circle cx="1183.4" cy="1238.5" r="13.5" fill="#2f7bbd"/>
<circle cx="1187.0" cy="1224.4" r="13.5" fill="#2f7bbd"/>
<circle cx="1211.5" cy="1225.4" r="13.5" fill="#2f7bbd"/>
<circle cx="1213.6" cy="1216.1" r="13.5" fill="#2f7bbd"/>
<circle cx="1225.0" cy="1200.9" r="13.5" fill="#e8323a"/>
<circle cx="1251.0" cy="1239.0" r="13.5" fill="#2f7bbd"/>
<circle cx="1235.5" cy="1253.6" r="13.5" fill="#2f7bbd"/>
<circle cx="1275.1" cy="1233.8" r="13.5" fill="#2f7bbd"/>
<circle cx="1280.3" cy="1242.1" r="13.5" fill="#e8323a"/>
<circle cx="1269.9" cy="1257.8" r="13.5" fill="#2f7bbd"/>
<circle cx="1297.0" cy="1257.8" r="13.5" fill="#2f7bbd"/>
<circle cx="1284.5" cy="1275.5" r="13.5" fill="#2f7bbd"/>
<circle cx="1287.6" cy="1298.4" r="13.5" fill="#2f7bbd"/>
<circle cx="1339.0" cy="1233.0" r="13.5" fill="#2f7bbd"/>
<circle cx="1348.0" cy="1231.0" r="13.5" fill="#2f7bbd"/>
<circle cx="1319.7" cy="1277.8" r="13.5" fill="#2f7bbd"/>
<circle cx="1332.5" cy="1269.8" r="13.5" fill="#2f7bbd"/>
<circle cx="1346.9" cy="1256.9" r="13.5" fill="#e8323a"/>
<circle cx="1343.7" cy="1289.0" r="13.5" fill="#e8323a"/>
<circle cx="1322.9" cy="1327.4" r="13.5" fill="#2f7bbd"/>
<circle cx="1330.9" cy="1324.2" r="13.5" fill="#2f7bbd"/>
<line x1="1102.5" y1="1026.2" x2="1102.5" y2="1409.8" stroke="#222222" stroke-width="3.7"/>
<line x1="1100.7" y1="1408.0" x2="1482.6" y2="1408.0" stroke="#222222" stroke-width="3.5"/>
<line x1="1092.7" y1="1027.9" x2="1102.5" y2="1027.9" stroke="#222222" stroke-width="3.3"/>
<text x="1085.5" y="1039.8" class="tk" text-anchor="end">0.6</text>
<line x1="1103.9" y1="1408.0" x2="1103.9" y2="1417.0" stroke="#222222" stroke-width="3.3"/>
<text x="1103.9" y="1447.9" class="tk" text-anchor="middle">−0.6</text>
<line x1="1092.7" y1="1122.4" x2="1102.5" y2="1122.4" stroke="#222222" stroke-width="3.3"/>
<text x="1085.5" y="1134.3" class="tk" text-anchor="end">0.3</text>
<line x1="1198.2" y1="1408.0" x2="1198.2" y2="1417.0" stroke="#222222" stroke-width="3.3"/>
<text x="1198.2" y="1447.9" class="tk" text-anchor="middle">−0.3</text>
<line x1="1092.7" y1="1217.0" x2="1102.5" y2="1217.0" stroke="#222222" stroke-width="3.3"/>
<text x="1085.5" y="1228.8" class="tk" text-anchor="end">0.0</text>
<line x1="1292.5" y1="1408.0" x2="1292.5" y2="1417.0" stroke="#222222" stroke-width="3.3"/>
<text x="1292.5" y="1447.9" class="tk" text-anchor="middle">0.0</text>
<line x1="1092.7" y1="1311.5" x2="1102.5" y2="1311.5" stroke="#222222" stroke-width="3.3"/>
<text x="1085.5" y="1323.3" class="tk" text-anchor="end">−0.3</text>
<line x1="1386.8" y1="1408.0" x2="1386.8" y2="1417.0" stroke="#222222" stroke-width="3.3"/>
<text x="1386.8" y="1447.9" class="tk" text-anchor="middle">0.3</text>
<line x1="1092.7" y1="1406.0" x2="1102.5" y2="1406.0" stroke="#222222" stroke-width="3.3"/>
<text x="1085.5" y="1417.9" class="tk" text-anchor="end">−0.6</text>
<line x1="1481.1" y1="1408.0" x2="1481.1" y2="1417.0" stroke="#222222" stroke-width="3.3"/>
<text x="1481.1" y="1447.9" class="tk" text-anchor="middle">0.6</text>
<text x="1292.5" y="1486.5" class="ttl" text-anchor="middle">CAP1 (5.9%)</text>
<text transform="translate(1006.3 1217.0) rotate(-90)" class="ttl" text-anchor="middle">CAP2 (3.2%)</text>
<rect x="1133.1" y="11.7" width="394.9" height="82" fill="#fff" stroke="#222222" stroke-width="3.4"/>
<circle cx="1158.3" cy="35.1" r="13.7" fill="#2f7bbd"/>
<circle cx="1158.3" cy="65.1" r="13.7" fill="#e8323a"/>
<text x="1188.6" y="46.8" class="lg">Healthy</text>
<text x="1188.6" y="75.9" class="lg">Post−weaning diarrhea</text>
</svg>
</body></html>
